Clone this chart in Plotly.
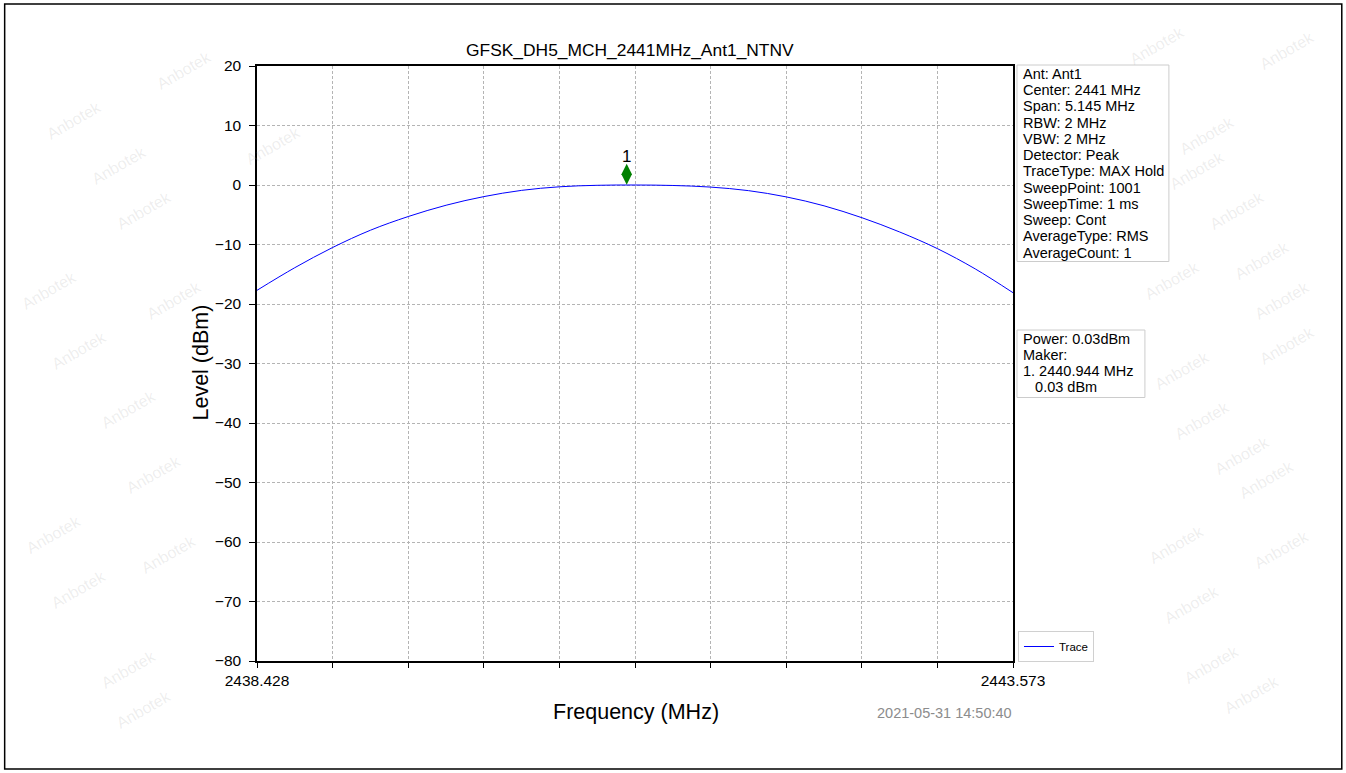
import numpy as np
import plotly.graph_objects as go

# ---- data ----
freq_start = 2438.428
freq_stop = 2443.573
trace_freq = [2438.428, 2438.685, 2438.943, 2439.200, 2439.457, 2439.715, 2439.972,
              2440.229, 2440.487, 2440.744, 2441.001, 2441.258, 2441.515, 2441.773,
              2442.030, 2442.287, 2442.545, 2442.802, 2443.059, 2443.316, 2443.573]
trace_level = [-17.7, -13.9, -10.5, -7.6, -5.3, -3.4, -1.95,
               -0.9, -0.3, -0.05, 0.0, -0.08, -0.35, -0.95,
               -2.0, -3.5, -5.5, -7.9, -10.7, -14.1, -18.1]
marker_freq = [2440.944]
marker_plot_level = [1.8]
marker_labels = ["1"]
x_tick_labels = ["2438.428", "", "", "", "", "", "", "", "", "", "2443.573"]
y_ticks = [20, 10, 0, -10, -20, -30, -40, -50, -60, -70, -80]

title = "GFSK_DH5_MCH_2441MHz_Ant1_NTNV"
info_lines = ["Ant: Ant1", "Center: 2441 MHz", "Span: 5.145 MHz", "RBW: 2 MHz", "VBW: 2 MHz",
              "Detector: Peak", "TraceType: MAX Hold", "SweepPoint: 1001", "SweepTime: 1 ms",
              "Sweep: Cont", "AverageType: RMS", "AverageCount: 1"]
power_lines = ["Power: 0.03dBm", "Maker:", "1. 2440.944 MHz", "\u00a0\u00a0\u00a00.03 dBm"]
timestamp = "2021-05-31 14:50:40"

FONT = "Arial, Liberation Sans, sans-serif"

W, H = 1346, 773
L, R, T, B = 256.5, 1013, 66, 661

def px(xp):
    return (xp - L) / (R - L)

def py(yp):
    return (B - yp) / (B - T)

fig = go.Figure()
fig.add_trace(go.Scatter(x=trace_freq, y=trace_level, mode="lines", name="Trace",
                         line=dict(color="#0000ff", width=1, shape="spline", smoothing=1.0)))
fig.add_trace(go.Scatter(x=marker_freq, y=marker_plot_level, mode="markers",
                         marker=dict(symbol="diamond-tall", size=15, color="#008000"),
                         showlegend=False))
for mf, ml, lab in zip(marker_freq, marker_plot_level, marker_labels):
    fig.add_annotation(x=mf, y=ml, xref="x", yref="y", text=lab, showarrow=False,
                       yshift=18, font=dict(size=17, family=FONT, color="black"))

tickvals = list(np.linspace(freq_start, freq_stop, 11))

grid = dict(showgrid=True, gridcolor="#b4b4b4", griddash="3px,2px", gridwidth=0.8,
            showline=True, linecolor="black", linewidth=1.5, mirror=True,
            ticks="outside", ticklen=6, tickcolor="black", tickwidth=1.2,
            tickfont=dict(size=15.5, family=FONT, color="black"), zeroline=False)

fig.update_layout(
    width=W, height=H,
    margin=dict(l=L, r=W - R, t=T, b=H - B, pad=0),
    paper_bgcolor="white", plot_bgcolor="white",
    font=dict(family=FONT, color="black"),
    xaxis=dict(range=[freq_start, freq_stop], tickvals=tickvals, ticktext=x_tick_labels,
               ticklen=5, **{k: v for k, v in grid.items() if k != "ticklen"}),
    yaxis=dict(range=[-80, 20], tickvals=y_ticks, ticklabelstandoff=5, **grid),
    legend=dict(x=px(1018), y=py(662), xanchor="left", yanchor="bottom",
                bgcolor="white", bordercolor="#d0d0d0", borderwidth=1,
                font=dict(size=11.5, family=FONT, color="black"), itemwidth=30,
                tracegroupgap=0),
    showlegend=True,
)

# title and axis titles
fig.add_annotation(xref="paper", yref="paper", x=px(630), y=py(50), xanchor="center", yanchor="middle",
                   text=title, showarrow=False, font=dict(size=17.4, family=FONT, color="black"))
fig.add_annotation(xref="paper", yref="paper", x=px(636), y=py(712), xanchor="center", yanchor="middle",
                   text="Frequency (MHz)", showarrow=False, font=dict(size=21.5, family=FONT, color="black"))
fig.add_annotation(xref="paper", yref="paper", x=px(200), y=py(363), xanchor="center", yanchor="middle",
                   text="Level (dBm)", textangle=-90, showarrow=False,
                   font=dict(size=21.5, family=FONT, color="black"))

# info box
fig.add_shape(type="rect", xref="paper", yref="paper", x0=px(1017), x1=px(1169), y0=py(65), y1=py(261.5),
              line=dict(color="#cccccc", width=1), fillcolor="white")
for i, s in enumerate(info_lines):
    fig.add_annotation(xref="paper", yref="paper", x=px(1021), y=py(74 + i * 16.24),
                       xanchor="left", yanchor="middle", text=s, showarrow=False,
                       font=dict(size=14.5, family=FONT, color="black"))
fig.add_shape(type="rect", xref="paper", yref="paper", x0=px(1017), x1=px(1145), y0=py(330), y1=py(397.5),
              line=dict(color="#cccccc", width=1), fillcolor="white")
for i, s in enumerate(power_lines):
    fig.add_annotation(xref="paper", yref="paper", x=px(1021), y=py(339 + i * 15.9),
                       xanchor="left", yanchor="middle", text=s, showarrow=False,
                       font=dict(size=14.5, family=FONT, color="black"))

fig.add_annotation(xref="paper", yref="paper", x=px(944), y=py(713), xanchor="center", yanchor="middle",
                   text=timestamp, showarrow=False, font=dict(size=14.5, family=FONT, color="#8c8c8c"))

# watermark
wm = [(40, 95), (85, 140), (110, 185), (15, 290), (45, 350), (95, 410), (120, 500), (20, 560),
      (45, 615), (95, 695), (110, 735), (150, 45), (240, 120), (140, 300), (135, 580),
      (1240, 110), (1230, 145), (1270, 185), (1295, 235), (1205, 280), (1315, 300), (1215, 370),
      (1235, 420), (1275, 455), (1300, 505), (1210, 570), (1315, 575), (1225, 630), (1245, 690),
      (1285, 720), (1320, 25), (1190, 20), (1320, 345)]
for (wx, wy) in wm:
    fig.add_annotation(xref="paper", yref="paper", x=px(wx), y=py(wy), text="Anbotek",
                       showarrow=False, textangle=-30,
                       font=dict(size=16, family=FONT, color="rgba(150,150,150,0.16)"))

# outer border
fig.add_shape(type="rect", xref="paper", yref="paper", x0=px(4), x1=px(1342), y0=py(4), y1=py(769),
              line=dict(color="black", width=1.5), fillcolor="rgba(0,0,0,0)", layer="above")

fig.write_html("out.html", config={"displayModeBar": False},
               post_script="document.body.style.margin='0';document.body.style.overflow='hidden';")
